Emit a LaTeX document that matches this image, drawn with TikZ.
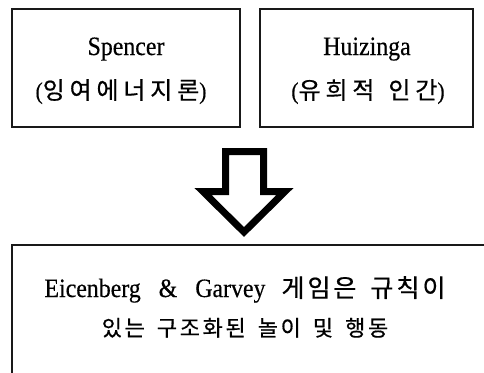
\documentclass[tikz,border=0pt]{standalone}
\usepackage{fontspec}
\setmainfont{Liberation Serif}[FakeStretch=0.9,FakeBold=0.4]
\newfontfamily\krfont{Noto Sans CJK KR}[LetterSpace=20,FakeBold=0.6]
\newfontfamily\krfontb{Noto Sans CJK KR}[LetterSpace=12,FakeBold=0.6]
\newcommand{\kr}[1]{{\krfont #1}}
\newcommand{\krb}[1]{{\krfontb #1}}
\begin{document}
\begin{tikzpicture}[x=1pt,y=-1pt,
  box/.style={draw=black!90,line width=1.3pt,inner sep=0pt},
  lat/.style={font=\fontsize{26.5}{26.5}\selectfont,anchor=base,inner sep=0pt},
  kor/.style={font=\fontsize{24}{24}\selectfont,anchor=base,inner sep=0pt},
  korb/.style={font=\fontsize{22}{22}\selectfont,anchor=base,inner sep=0pt},
  bigarrow/.style={draw=black,line width=7pt,line join=miter,fill=white}]
\useasboundingbox (0,0) rectangle (484,372);
% boxes
\node[box,minimum width=228pt,minimum height=118pt] (b1) at (126,68) {};
\node[box,minimum width=213pt,minimum height=118pt] (b2) at (366.5,68) {};
\node[box,minimum width=508pt,minimum height=175pt] (b3) at (266,332.5) {};
% texts
\node[lat] (t1a) at (126,55) {Spencer};
\node[kor] (t1b) at (121,99) {(\kr{잉여에너지론})};
\node[lat] (t2a) at (367,55) {Huizinga};
\node[kor] (t2b) at (368,99) {(\kr{유희적}\hspace{14pt}\kr{인간})};
\node[lat] (t3a) at (245,297) {Eicenberg\hspace{18pt}\&\hspace{18pt}Garvey\hspace{16pt}\krb{\fontsize{25}{25}\selectfont 게임은}\hspace{14pt}\krb{\fontsize{25}{25}\selectfont 규칙이}};
\node[korb] (t3b) at (245,336) {\krb{있는}\hspace{12pt}\krb{구조화된}\hspace{12pt}\krb{놀이}\hspace{12pt}\krb{및}\hspace{12pt}\krb{행동}};
% block arrow
\draw[bigarrow] (225.5,151.5) -- (263.5,151.5) -- (263.5,191.5) -- (285,191.5)
  -- (244,232) -- (203,191.5) -- (225.5,191.5) -- cycle;
\end{tikzpicture}
\end{document}
